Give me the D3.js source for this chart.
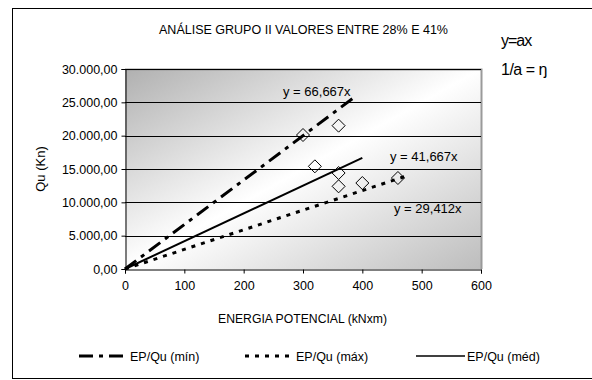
<!DOCTYPE html>
<html>
<head>
<meta charset="utf-8">
<script src="https://cdn.jsdelivr.net/npm/d3@7"></script>
<style>
  body { margin: 0; background: #fff; }
  text { font-family: "Liberation Sans", Arial, sans-serif; fill: #000; }
</style>
</head>
<body>
<div id="chart"></div>
<script>
// data
var pointsX = [300, 360, 320, 360, 360, 400, 460];
var pointsY = [20100, 21500, 15400, 14400, 12400, 12900, 13650];

var seriesNames = ["EP/Qu (mín)", "EP/Qu (máx)", "EP/Qu (méd)"];
var slopes = [66.667, 29.412, 41.667];
var lineEnds = [390, 480, 400];
var equations = ["y = 66,667x", "y = 29,412x", "y = 41,667x"];

var xTicks = [0, 100, 200, 300, 400, 500, 600];
var yTicks = [0, 5000, 10000, 15000, 20000, 25000, 30000];

var width = 592, height = 380;
var margin = {top: 69, right: 111, bottom: 111, left: 125};

var svg = d3.select("#chart").append("svg")
  .attr("width", width)
  .attr("height", height);

var x = d3.scaleLinear().domain([0, 600]).range([margin.left, width - margin.right]);
var y = d3.scaleLinear().domain([0, 30000]).range([height - margin.bottom, margin.top]);

var fmt = function(v) {
  // 30.000,00 style
  var s = d3.format(",.2f")(v);
  return s.replace(/,/g, "#").replace(".", ",").replace(/#/g, ".");
};

// outer frame
svg.append("rect")
  .attr("x", 12.5).attr("y", 8.5)
  .attr("width", 620).attr("height", 370)
  .attr("fill", "none").attr("stroke", "#000").attr("stroke-width", 1);

// plot background gradient
var grad = svg.append("defs").append("linearGradient")
  .attr("id", "bg").attr("x1", 0).attr("y1", 0).attr("x2", 1).attr("y2", 1);
grad.append("stop").attr("offset", 0).attr("stop-color", "#b0b0b0");
grad.append("stop").attr("offset", 0.5).attr("stop-color", "#ffffff");
grad.append("stop").attr("offset", 1).attr("stop-color", "#bdbdbd");

svg.append("rect")
  .attr("x", x(0)).attr("y", y(30000))
  .attr("width", x(600) - x(0)).attr("height", y(0) - y(30000))
  .attr("fill", "url(#bg)");

// gray right / top border
svg.append("path")
  .attr("d", "M" + x(0) + "," + (y(30000) + 0.5) + "H" + (x(600) + 0.5) + "V" + y(0))
  .attr("fill", "none").attr("stroke", "#9a9a9a").attr("stroke-width", 2);

// gridlines
svg.append("g").selectAll("line")
  .data(yTicks.filter(function(d) { return d > 0; }))
  .enter().append("line")
    .attr("x1", x(0)).attr("x2", x(600))
    .attr("y1", function(d) { return Math.round(y(d)) + 0.5; })
    .attr("y2", function(d) { return Math.round(y(d)) + 0.5; })
    .attr("stroke", "#000").attr("stroke-width", 1);

// axes
var xAxis = svg.append("g")
  .attr("transform", "translate(0," + (Math.round(y(0)) + 0.5) + ")")
  .call(d3.axisBottom(x).tickValues(xTicks).tickSize(4).tickPadding(8));
var yAxis = svg.append("g")
  .attr("transform", "translate(" + (Math.round(x(0)) + 0.5) + ",0)")
  .call(d3.axisLeft(y).tickValues(yTicks).tickSize(4).tickPadding(4).tickFormat(fmt));

[xAxis, yAxis].forEach(function(ax) {
  ax.select(".domain").attr("stroke", "#000");
  ax.selectAll(".tick line").attr("stroke", "#000");
  ax.selectAll(".tick text")
    .attr("font-size", "12.5px")
    .attr("font-family", "Liberation Sans, Arial, sans-serif")
    .attr("fill", "#000");
});

// trendlines
var dashes = ["14,6,4,6", "4,6", null];
var lines = seriesNames.map(function(name, i) {
  return {name: name, pts: [[0, 0], [lineEnds[i], slopes[i] * lineEnds[i]]], dash: dashes[i]};
});
var line = d3.line()
  .x(function(d) { return x(d[0]); })
  .y(function(d) { return y(d[1]); });

svg.append("g").selectAll("path")
  .data(lines)
  .enter().append("path")
    .attr("d", function(d) { return line(d.pts); })
    .attr("fill", "none")
    .attr("stroke", "#000")
    .attr("stroke-width", function(d) { return d.dash ? 3 : 2; })
    .attr("stroke-dasharray", function(d) { return d.dash; });

// data points (diamonds)
var r = 6.5;
svg.append("g").selectAll("path")
  .data(pointsX.map(function(v, i) { return [v, pointsY[i]]; }))
  .enter().append("path")
    .attr("transform", function(d) { return "translate(" + x(d[0]) + "," + y(d[1]) + ")"; })
    .attr("d", "M0," + (-r) + "L" + r + ",0L0," + r + "L" + (-r) + ",0Z")
    .attr("fill", "none")
    .attr("stroke", "#000")
    .attr("stroke-width", 1);

// equation labels
var eqPos = [[283, 96], [394, 213], [390, 161]];
svg.append("g").selectAll("text")
  .data(equations)
  .enter().append("text")
    .attr("x", function(d, i) { return eqPos[i][0]; })
    .attr("y", function(d, i) { return eqPos[i][1]; })
    .attr("font-size", "13px")
    .text(function(d) { return d; });

// title
svg.append("text")
  .attr("x", 159).attr("y", 34)
  .attr("font-size", "12.5px")
  .attr("textLength", 289).attr("lengthAdjust", "spacingAndGlyphs")
  .text("ANÁLISE GRUPO  II VALORES ENTRE 28% E 41%");

// axis titles
svg.append("text")
  .attr("x", 218).attr("y", 323)
  .attr("font-size", "12.5px")
  .attr("textLength", 169).attr("lengthAdjust", "spacingAndGlyphs")
  .text("ENERGIA POTENCIAL (kNxm)");

svg.append("text")
  .attr("transform", "translate(45,169) rotate(-90)")
  .attr("text-anchor", "middle")
  .attr("font-size", "13px")
  .text("Qu (Kn)");

// side note
svg.append("text").attr("x", 501).attr("y", 46)
  .attr("font-size", "16px").attr("letter-spacing", "-1px").text("y=ax");
svg.append("text").attr("x", 501).attr("y", 75)
  .attr("font-size", "16px").attr("letter-spacing", "-0.5px").text("1/a = ŋ");

// legend
var legX = [79, 245, 416];
var leg = svg.append("g").selectAll("g")
  .data(lines)
  .enter().append("g")
    .attr("transform", function(d, i) { return "translate(" + legX[i] + ",356)"; });
leg.append("line")
  .attr("x1", 0).attr("x2", 49)
  .attr("stroke", "#000")
  .attr("stroke-width", function(d) { return d.dash ? 3 : 1.5; })
  .attr("stroke-dasharray", function(d) { return d.dash; });
leg.append("text")
  .attr("x", 51).attr("y", 5)
  .attr("font-size", "12.5px")
  .text(function(d) { return d.name; });
</script>
</body>
</html>
